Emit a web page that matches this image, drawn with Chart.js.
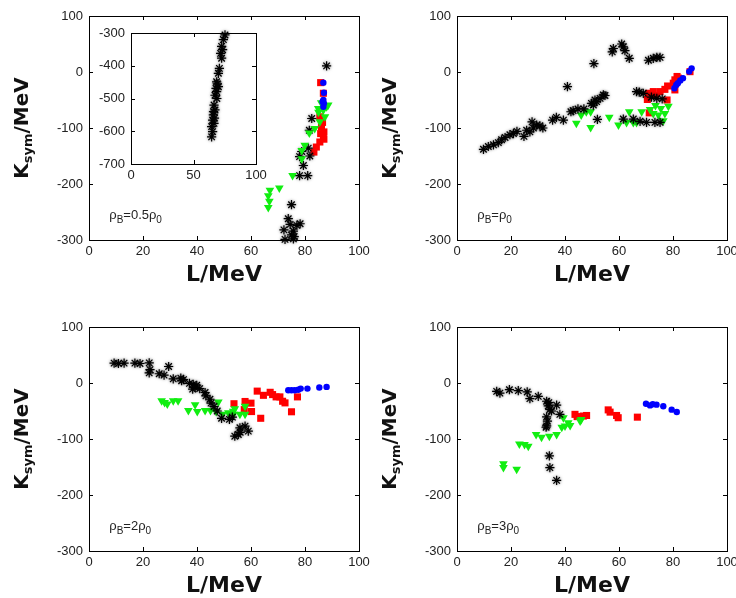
<!DOCTYPE html>
<html>
<head>
<meta charset="utf-8">
<script src="https://cdn.jsdelivr.net/npm/chart.js@4.4.0/dist/chart.umd.min.js"></script>
<style>
    html, body { margin: 0; padding: 0; background: #fff; overflow: hidden; width: 736px; height: 598px; }
    canvas { position: absolute; }
</style>
</head>
<body>
<canvas id="c1" width="372" height="290" style="left:0;top:0"></canvas>
<canvas id="c2" width="366" height="290" style="left:370px;top:0"></canvas>
<canvas id="c3" width="372" height="290" style="left:0;top:311px"></canvas>
<canvas id="c4" width="366" height="290" style="left:370px;top:311px"></canvas>
<canvas id="inset" width="175" height="175" style="left:92px;top:20px"></canvas>
<script>
// ── Data: L (MeV) and Ksym (MeV) ──
// rho_B = 0.5 rho_0
const halfBlackL = [88, 82.5, 81.6, 81.2, 78.8, 78, 81.8, 79.4, 78, 81, 75, 73.8, 72.2, 77, 75.7, 75, 72.6, 75.7, 78.2, 74.5, 76];
const halfBlackK = [11, -83, -104, -136, -142, -151, -150, -167, -185, -185, -237, -262, -282, -274, -284, -291, -299, -298, -271, -272, -294];
const halfGreenL = [88.6, 86.8, 84.9, 87.4, 85.5, 83.6, 81.6, 79.9, 78.8, 78.8, 75.4, 70.5, 67, 66.4, 66.8, 66.4, 86, 88, 85];
const halfGreenK = [-59, -68, -65, -80, -89, -101, -109, -131, -140, -155, -185, -207, -211, -221, -231, -242, -55, -62, -72];
const halfRedL = [85.8, 86.8, 85.5, 86.1, 86.8, 85.5, 84.2, 83.3, 87, 86.5, 85.8, 87];
const halfRedK = [-19, -38, -80, -98, -116, -125, -134, -143, -107, -90, -110, -120];
const halfBlueL = [86.8, 87, 86.8, 87, 86.8, 86.5];
const halfBlueK = [-19, -37, -50, -56, -62, -53];

// inset of the 0.5 rho_0 panel
const insetL = [75.2, 73.9, 72.5, 73.3, 71.7, 72.5, 70.7, 69.9, 68.5, 69, 69.9, 68, 68.5, 67.2, 68.7, 66.4, 67.2, 66, 65.9, 66.8, 65.3, 66.4, 64.5, 65.3, 64.5];
const insetK = [-306, -320, -341, -351, -362, -377, -408, -423, -449, -455, -464, -469, -479, -490, -500, -520, -535, -540, -550, -560, -566, -576, -586, -601, -617];

// rho_B = rho_0
const oneBlackL = [9.8, 11.6, 13.5, 15.3, 16.5, 17.8, 19.6, 20.9, 22.2, 24.8, 25.8, 27, 27.8, 28.3, 29.5, 30.7, 31.8, 35.4, 36.8, 39.4, 40.9, 42.2, 43, 44.8, 47, 49.8, 51.1, 53, 54.8,
    50.7, 57.9, 57.5, 61, 61.6, 62.2, 63.8, 70.9, 72.7, 74, 75.2, 66.5, 69, 67.5, 51.7, 54.2, 50.5, 52, 61.6, 65.3, 67.8, 70.2, 73.3, 75.2, 72, 74, 76];
const oneBlackK = [-138, -133, -130, -126, -121, -117, -112, -110, -106, -115, -104, -107, -89, -100, -95, -96, -100, -86, -81, -86, -26, -71, -69, -66, -66, -56, -50, -47, -42,
    15, 42, 36, 50, 45, 38, 24.5, 21, 24.5, 26, 26, -35, -38, -36, -53, -41, -59, -84.5, -84, -84, -88, -90, -90, -90, -45, -47, -48];
const oneGreenL = [44.2, 46, 47.9, 49.5, 49.5, 56.4, 59.8, 63.8, 65.3, 68.4, 71.5, 72.7, 74.6, 77, 76.4, 78.3, 62.8, 66.5, 73.5, 75.5];
const oneGreenK = [-91.6, -77, -71, -99, -71, -81, -94.5, -71, -90, -71, -67, -74, -77, -74, -87, -61, -90, -90, -60, -65];
const oneRedL = [70.9, 72.7, 75.2, 77, 80.7, 80.1, 82, 70.5, 77.8, 86.3, 80.7, 71.2, 73.5, 78, 81.5];
const oneRedK = [-38, -35, -35, -31, -14, -20, -11, -49, -50, 0.6, -32, -73, -42, -25, -8];
const oneBlueL = [86.9, 86, 83.7, 82.7, 81.2, 80.5, 81.8];
const oneBlueK = [6.5, 0.7, -11, -15, -23, -29, -20];

// rho_B = 2 rho_0
const twoBlackL = [9.3, 10.9, 13, 17, 18.9, 22.3, 22.3, 22.6, 26, 27.8, 29.5, 31.2, 34, 34.3, 35, 37.2, 38.6, 39.3, 39.9, 38.4, 41, 43, 43.3, 44.8, 45.2, 46.3, 47.5, 49.1, 52, 53.1, 55.3, 54, 55.9, 57.8, 59, 56];
const twoBlackK = [35.4, 34.8, 35.4, 35.4, 34.8, 36, 18, 24, 16.5, 14, 29.5, 7.5, 8.6, 4, 6, -0.7, -2.5, -8, -4, -11, -10, -17, -23, -29, -36, -42, -50, -63, -65, -61, -92, -95, -80, -77, -86, -88];
const twoGreenL = [26.9, 29, 31.2, 33, 28, 36.8, 39.3, 40.1, 43, 45, 47.9, 47.1, 49.5, 51.6, 53.4, 54, 53.5, 55.9, 57.8, 57.8];
const twoGreenK = [-31.6, -37.5, -31.6, -31.6, -35, -49, -38.7, -51, -49, -49, -34, -51, -56, -53, -50.5, -46, -56, -56, -41.6, -56];
const twoRedL = [53.7, 57.8, 60, 60.2, 63.6, 62.3, 64.6, 67.1, 68, 69.3, 70.7, 71.7, 72.6, 77.2, 75, 57.5];
const twoRedK = [-37, -33, -36, -51, -63, -14.5, -22, -16.6, -20.7, -24.8, -24.8, -32.6, -35.5, -24.8, -51.4, -47.5];
const twoBlueL = [73.8, 75, 76.2, 77.5, 78.4, 80.9, 85.3, 88];
const twoBlueK = [-13, -13, -13, -12, -10, -10, -8, -7];

// rho_B = 3 rho_0
const threeBlackL = [14.7, 15.9, 19.4, 22.7, 26, 27, 30.1, 33.2, 33.8, 34.4, 36.9, 33.2, 33.2, 33, 38.1, 34.2, 34.4, 36.9, 33.5, 35, 34];
const threeBlackK = [-15, -18, -12, -13.7, -16, -28, -24, -32.6, -41, -47, -39.5, -60.5, -76.6, -79, -56, -130, -151, -174, -68, -50, -35];
const threeGreenL = [39.4, 41.2, 45.6, 38.8, 40, 36.9, 34.2, 31.3, 29.3, 23.1, 26.4, 25, 17.2, 17.2, 22.1, 41.9, 46];
const threeGreenK = [-62, -71, -68, -79, -77, -92, -95, -97, -92, -109, -113, -110, -144, -151, -154, -76, -65];
const threeRedL = [43.7, 46.8, 48, 56, 56.7, 59.1, 59.7, 66.8, 44.5];
const threeRedK = [-56, -59, -58, -48, -52, -58, -62, -61, -60];
const threeBlueL = [70, 71.5, 72.5, 73.9, 76.4, 79.5, 81.4];
const threeBlueK = [-37, -40, -38, -38.7, -41.6, -47.6, -51.7];

// ── Axis ticks ──
const mainXTicks = [0, 20, 40, 60, 80, 100];
const mainYTicks = [-300, -200, -100, 0, 100];
const insetXTicks = [0, 50, 100];
const insetYTicks = [-700, -600, -500, -400, -300];

const FONT = "'Liberation Sans', Arial, sans-serif";
const BOLD_FONT = "'DejaVu Sans', sans-serif";

function zip(xs, ys) {
    return xs.map((x, i) => ({ x: x, y: ys[i] }));
}

// ── Marker styles ──
function blackSet(L, K) {
    return { data: zip(L, K), pointStyle: 'star', pointRadius: 4.6, pointBorderWidth: 1.2,
        pointBorderColor: '#000', pointBackgroundColor: '#000', halo: true, clip: false };
}
function greenSet(L, K) {
    return { data: zip(L, K), pointStyle: 'triangle', pointRotation: 180, pointRadius: 5, pointBorderWidth: 0,
        pointBackgroundColor: '#11ee11', pointBorderColor: '#11ee11', clip: false };
}
function redSet(L, K) {
    return { data: zip(L, K), pointStyle: 'rect', pointRadius: 5, pointBorderWidth: 0,
        pointBackgroundColor: '#ff0000', pointBorderColor: '#ff0000', clip: false };
}
function blueSet(L, K) {
    return { data: zip(L, K), pointStyle: 'circle', pointRadius: 3.2, pointBorderWidth: 0,
        pointBackgroundColor: '#0000ff', pointBorderColor: '#0000ff', clip: false };
}

// ── Box with inward ticks on all four sides ──
function framePlugin(xTicks, yTicks) {
    return {
        id: 'frame',
        afterDraw(chart) {
            const ctx = chart.ctx, a = chart.chartArea;
            const xs = chart.scales.x, ys = chart.scales.y;
            const len = 4;
            ctx.save();
            ctx.strokeStyle = '#000';
            ctx.lineWidth = 1;
            ctx.strokeRect(Math.round(a.left) + 0.5, Math.round(a.top) + 0.5,
                Math.round(a.right - a.left), Math.round(a.bottom - a.top));
            ctx.beginPath();
            xTicks.forEach(v => {
                const px = Math.round(xs.getPixelForValue(v)) + 0.5;
                ctx.moveTo(px, a.bottom); ctx.lineTo(px, a.bottom - len);
                ctx.moveTo(px, a.top); ctx.lineTo(px, a.top + len);
            });
            yTicks.forEach(v => {
                const py = Math.round(ys.getPixelForValue(v)) + 0.5;
                ctx.moveTo(a.left, py); ctx.lineTo(a.left + len, py);
                ctx.moveTo(a.right, py); ctx.lineTo(a.right - len, py);
            });
            ctx.stroke();
            ctx.restore();
        }
    };
}

// ── Soft grey halo behind the black asterisks ──
const haloPlugin = {
    id: 'halo',
    beforeDatasetDraw(chart, args) {
        const ds = chart.data.datasets[args.index];
        chart.ctx.save();
        if (ds.halo) {
            chart.ctx.shadowColor = 'rgba(0,0,0,0.6)';
            chart.ctx.shadowBlur = 3;
        }
    },
    afterDatasetDraw(chart) {
        chart.ctx.restore();
    }
};

// ── Rotated y title: K_sym/MeV ──
const yLabelPlugin = {
    id: 'ylabel',
    afterDraw(chart) {
        const ctx = chart.ctx, a = chart.chartArea;
        const big = 'bold 20px ' + BOLD_FONT, small = 'bold 13px ' + BOLD_FONT;
        ctx.save();
        ctx.translate(a.left - 61, (a.top + a.bottom) / 2);
        ctx.rotate(-Math.PI / 2);
        ctx.fillStyle = '#111';
        ctx.textBaseline = 'alphabetic';
        ctx.font = big;
        const wK = ctx.measureText('K').width, wM = ctx.measureText('/MeV').width;
        ctx.font = small;
        const wS = ctx.measureText('sym').width;
        let x = -(wK + wS + wM) / 2;
        ctx.font = big;
        ctx.fillText('K', x, 0);
        x += wK;
        ctx.font = small;
        ctx.fillText('sym', x, 4);
        x += wS;
        ctx.font = big;
        ctx.fillText('/MeV', x, 0);
        ctx.restore();
    }
};

// ── Density note: rho_B = n rho_0 ──
function notePlugin(factor) {
    return {
        id: 'note',
        afterDraw(chart) {
            const ctx = chart.ctx;
            let x = chart.scales.x.getPixelForValue(7.5);
            const y = chart.scales.y.getPixelForValue(-262);
            const parts = [['ρ', 0, 13], ['B', 4, 10], ['=' + factor + 'ρ', 0, 13], ['0', 4, 10]];
            ctx.save();
            ctx.fillStyle = '#222';
            ctx.textBaseline = 'alphabetic';
            parts.forEach(([t, dy, size]) => {
                ctx.font = size + 'px ' + FONT;
                ctx.fillText(t, x, y + dy);
                x += ctx.measureText(t).width;
            });
            ctx.restore();
        }
    };
}

function scaleOpts(min, max, ticks, cfg, isX) {
    const o = {
        type: 'linear', min: min, max: max,
        grid: { display: false, drawTicks: false },
        border: { display: false },
        afterBuildTicks(s) { s.ticks = ticks.map(v => ({ value: v })); },
        ticks: { padding: isX ? 4 : 6, color: '#222', font: { family: FONT, size: 13 }, maxRotation: 0, autoSkip: false }
    };
    if (isX) {
        o.title = cfg.xTitle
            ? { display: true, text: 'L/MeV', color: '#111', font: { family: BOLD_FONT, size: 22, weight: 'bold' }, padding: { top: 0, bottom: 2 } }
            : { display: false };
        o.afterFit = s => { s.height = cfg.xHeight; s.paddingLeft = 0; s.paddingRight = 0; };
    } else {
        o.afterFit = s => { s.width = cfg.yWidth; s.paddingTop = 0; s.paddingBottom = 0; };
    }
    return o;
}

function makePanel(id, datasets, cfg) {
    const plugins = [haloPlugin, framePlugin(cfg.xTicks, cfg.yTicks)];
    if (cfg.yTitle) plugins.push(yLabelPlugin);
    if (cfg.note !== undefined) plugins.push(notePlugin(cfg.note));
    return new Chart(document.getElementById(id), {
        type: 'scatter',
        data: { datasets: datasets },
        options: {
            responsive: false,
            animation: false,
            events: [],
            layout: { padding: { top: cfg.top, right: cfg.right, left: 0, bottom: 0 } },
            plugins: { legend: { display: false }, tooltip: { enabled: false } },
            scales: {
                x: scaleOpts(cfg.xMin, cfg.xMax, cfg.xTicks, cfg, true),
                y: scaleOpts(cfg.yMin, cfg.yMax, cfg.yTicks, cfg, false)
            }
        },
        plugins: plugins
    });
}

const mainCfg = { xMin: 0, xMax: 100, yMin: -300, yMax: 100, xTicks: mainXTicks, yTicks: mainYTicks,
    top: 16, xHeight: 50, xTitle: true, yTitle: true };

// Dataset order: first one ends up drawn on top
makePanel('c1', [blueSet(halfBlueL, halfBlueK), greenSet(halfGreenL, halfGreenK), blackSet(halfBlackL, halfBlackK), redSet(halfRedL, halfRedK)],
    Object.assign({}, mainCfg, { right: 13, yWidth: 89, note: '0.5' }));
makePanel('c2', [blueSet(oneBlueL, oneBlueK), blackSet(oneBlackL, oneBlackK), greenSet(oneGreenL, oneGreenK), redSet(oneRedL, oneRedK)],
    Object.assign({}, mainCfg, { right: 9, yWidth: 87, note: '' }));
makePanel('c3', [blueSet(twoBlueL, twoBlueK), blackSet(twoBlackL, twoBlackK), greenSet(twoGreenL, twoGreenK), redSet(twoRedL, twoRedK)],
    Object.assign({}, mainCfg, { right: 13, yWidth: 89, note: '2' }));
makePanel('c4', [blueSet(threeBlueL, threeBlueK), blackSet(threeBlackL, threeBlackK), greenSet(threeGreenL, threeGreenK), redSet(threeRedL, threeRedK)],
    Object.assign({}, mainCfg, { right: 9, yWidth: 87, note: '3' }));

// inset: wide Ksym range of the 0.5 rho_0 case
makePanel('inset', [blackSet(insetL, insetK)],
    { xMin: 0, xMax: 100, yMin: -700, yMax: -300, xTicks: insetXTicks, yTicks: insetYTicks,
      top: 13, right: 11, xHeight: 31, yWidth: 39, xTitle: false, yTitle: false });
</script>
</body>
</html>
